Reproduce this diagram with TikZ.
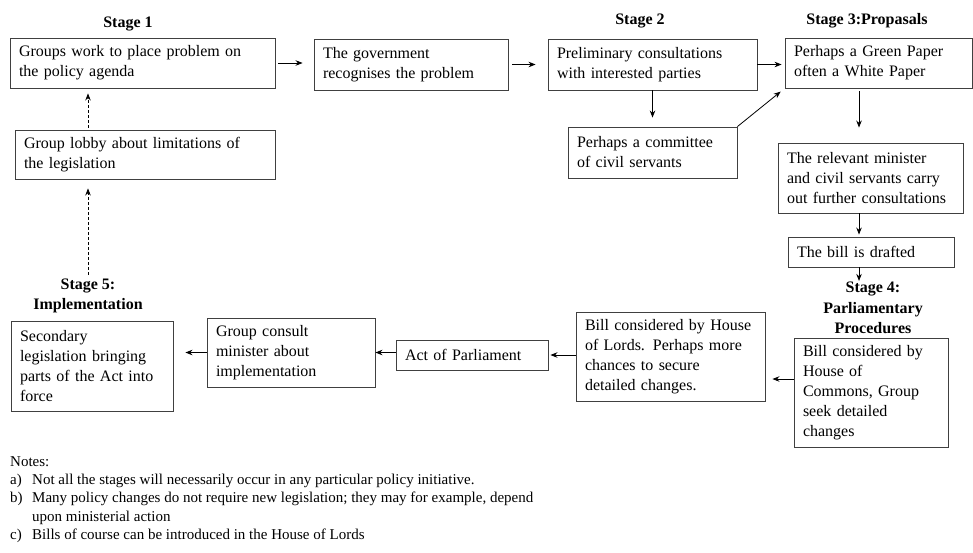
\documentclass[tikz,border=0pt]{standalone}
\usepackage{fontspec}
\setmainfont{Liberation Serif}
\usetikzlibrary{arrows.meta,positioning,calc}

\begin{document}
\begin{tikzpicture}[
		x=1pt, y=-1pt,
		box/.style={draw=black!75, line width=0.9pt, align=left,
				inner xsep=9pt, inner ysep=0pt,
				font=\fontsize{16}{20}\selectfont},
		lbl/.style={align=center, inner sep=0pt,
				font=\fontsize{16}{20.5}\selectfont\bfseries},
		arr/.style={-{Stealth[length=7pt,width=5.5pt]}, line width=0.8pt},
		dasharr/.style={arr, dashed, dash pattern=on 3pt off 2pt}
	]
	\useasboundingbox[fill=white] (0,0) rectangle (973,552);

	% stage headings
	\node[lbl] (s1) at (128,24) {Stage 1};
	\node[lbl] (s2) at (640,21) {Stage 2};
	\node[lbl] (s3) at (867,21) {Stage 3:Propasals};
	\node[lbl] (s4) at (873,308) {Stage 4:\\Parliamentary\\Procedures};
	\node[lbl] (s5) at (88,296) {Stage 5:\\Implementation};

	% top row
	\node[box, text width=247pt, minimum height=50pt] (groups) at (142.5,63)
		{Groups work to place problem on\\the policy agenda};
	\node[box, text width=176pt, minimum height=51pt] (govt) at (411,64.5)
		{The government\\recognises the problem};
	\node[box, text width=191pt, minimum height=51pt] (prelim) at (652.5,64.5)
		{Preliminary consultations\\with interested parties};
	\node[box, text width=169pt, minimum height=50pt] (green) at (878.5,63)
		{Perhaps a Green Paper\\often a White Paper};

	% second row
	\node[box, text width=151pt, minimum height=51pt] (cmte) at (652.5,152.5)
		{Perhaps a committee\\of civil servants};
	\node[box, text width=242pt, minimum height=49pt] (lobby) at (145,154.5)
		{Group lobby about limitations of\\the legislation};

	% right column
	\node[box, text width=167pt, minimum height=70pt] (minister) at (870.5,178)
		{The relevant minister\\and civil servants carry\\out further consultations};
	\node[box, text width=148pt, minimum height=30pt] (drafted) at (871,252)
		{The bill is drafted};
	\coordinate (spine) at (859,0);

	% bottom row
	\node[box, text width=136pt, minimum height=109pt] (commons) at (871,392.5)
		{Bill considered by\\House of\\Commons, Group\\seek detailed\\changes};
	\node[box, text width=171pt, minimum height=89pt] (lords) at (670.5,356.5)
		{Bill considered by House\\of Lords. Perhaps more\\chances to secure\\detailed changes.};
	\node[box, text width=134pt, minimum height=30pt] (act) at (472,355)
		{Act of Parliament};
	\node[box, text width=150pt, minimum height=69pt] (consult) at (291,352.5)
		{Group consult\\minister about\\implementation};
	\node[box, text width=144pt, minimum height=90pt] (second) at (92,366)
		{Secondary\\legislation bringing\\parts of the Act into\\force};

	% connectors
	\draw[arr, shorten <=3pt, shorten >=11pt] (groups.east) -- (groups.east -| govt.west);
	\draw[arr, shorten <=4pt, shorten >=12pt] (govt.east) -- (govt.east -| prelim.west);
	\draw[arr, shorten >=3pt] (prelim.east) -- (prelim.east -| green.west);
	\draw[arr, shorten >=9pt] (prelim.south) -- (cmte.north);
	\draw[arr, shorten >=5pt] (cmte.north east) -- (green.south west);
	\draw[arr, shorten <=3pt, shorten >=15pt] (green.south -| spine) -- (minister.north -| spine);
	\draw[arr, shorten >=2pt] (minister.south -| spine) -- (drafted.north -| spine);
	\draw[arr, shorten >=1pt] (drafted.south -| spine) -- (s4.north -| spine);
	\draw[arr, shorten >=7pt] ([yshift=13.5pt]commons.west) -- ([yshift=13.5pt]commons.west -| lords.east);
	\draw[arr, shorten >=2pt] (lords.west |- act.east) -- (act.east);
	\draw[arr] (act.west |- consult.east) -- (consult.east);
	\draw[arr, shorten >=12pt] (consult.west) -- (consult.west -| second.east);
	\draw[dasharr, shorten <=2pt, shorten >=5pt] (lobby.north -| s5) -- (groups.south -| s5);
	\draw[dasharr, shorten <=4pt, shorten >=9pt] (s5.north) -- (lobby.south -| s5);

	% notes
	\node[anchor=north west, align=left, inner sep=0pt,
		font=\fontsize{15}{18.4}\selectfont] (notes) at (10,456)
		{Notes:\\
		\makebox[22pt][l]{a)}Not all the stages will necessarily occur in any particular policy initiative.\\
		\makebox[22pt][l]{b)}Many policy changes do not require new legislation; they may for example, depend\\
		\makebox[22pt][l]{}upon ministerial action\\
		\makebox[22pt][l]{c)}Bills of course can be introduced in the House of Lords};
\end{tikzpicture}
\end{document}
